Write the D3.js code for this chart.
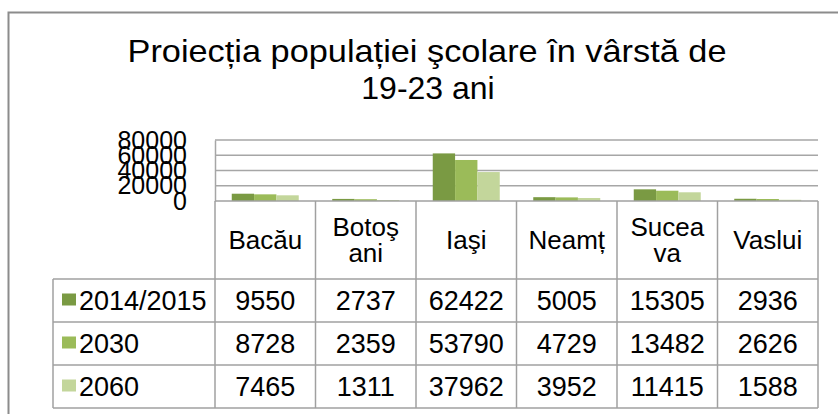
<!DOCTYPE html>
<html>
<head>
<meta charset="utf-8">
<script src="https://cdn.jsdelivr.net/npm/d3@7"></script>
<style>
  body { margin: 0; background: #fff; }
  text { font-family: "Liberation Sans", Arial, sans-serif; fill: #000; }
</style>
</head>
<body>
<div id="wrapper"></div>
<script>
// data
const categories = ["Bacău", "Botoşani", "Iaşi", "Neamț", "Suceava", "Vaslui"];
const headerLines = [["Bacău"], ["Botoş", "ani"], ["Iaşi"], ["Neamț"], ["Sucea", "va"], ["Vaslui"]];
const seriesNames = ["2014/2015", "2030", "2060"];
const values2014 = [9550, 2737, 62422, 5005, 15305, 2936];
const values2030 = [8728, 2359, 53790, 4729, 13482, 2626];
const values2060 = [7465, 1311, 37962, 3952, 11415, 1588];
const yTicks = [0, 20000, 40000, 60000, 80000];
const colors = ["#7a9a43", "#9bbb59", "#c3d69b"];
const titleLines = ["Proiecția populației şcolare în vârstă de", "19-23 ani"];

function drawChart() {
    const seriesValues = [values2014, values2030, values2060];

    let dimensions = {
        width: 838,
        height: 414,
        plotLeft: 215,
        plotRight: 818,
        plotTop: 140,
        plotBottom: 201,
        headerBottom: 279,
        rowHeight: 43,
        legendLeft: 53,
    };

    const svg = d3.select("#wrapper")
        .append("svg")
        .attr("width", dimensions.width)
        .attr("height", dimensions.height);

    // outer frame (cut off on right and bottom)
    svg.append("rect")
        .attr("x", 8.5).attr("y", 12.5)
        .attr("width", 900).attr("height", 500)
        .attr("fill", "none")
        .attr("stroke", "#8c8c8c")
        .attr("stroke-width", 2);

    // title, first line is a bit wider in the original
    const title = svg.append("g").attr("text-anchor", "middle");
    title.append("text")
        .attr("x", 427).attr("y", 62)
        .style("font-size", "32px")
        .attr("textLength", 599)
        .attr("lengthAdjust", "spacingAndGlyphs")
        .text(titleLines[0]);
    title.append("text")
        .attr("x", 428).attr("y", 98.5)
        .style("font-size", "32px")
        .text(titleLines[1]);

    // scales
    const xScale = d3.scaleBand()
        .domain(categories)
        .range([dimensions.plotLeft, dimensions.plotRight]);

    const bw = xScale.bandwidth();
    const seriesScale = d3.scaleBand()
        .domain(seriesNames)
        .range([bw / 6, bw - bw / 6]);

    const yScale = d3.scaleLinear()
        .domain([0, 80000])
        .range([dimensions.plotBottom, dimensions.plotTop]);

    // gridlines
    svg.append("g")
        .selectAll("line")
        .data(yTicks.filter(d => d > 0))
        .join("line")
        .attr("x1", dimensions.plotLeft)
        .attr("x2", dimensions.plotRight)
        .attr("y1", d => yScale(d))
        .attr("y2", d => yScale(d))
        .attr("stroke", "#a6a6a6")
        .attr("stroke-width", 1.5);

    // bars
    seriesValues.forEach((vals, s) => {
        svg.append("g")
            .selectAll("rect")
            .data(vals)
            .join("rect")
            .attr("x", (d, i) => xScale(categories[i]) + seriesScale(seriesNames[s]))
            .attr("width", seriesScale.bandwidth())
            .attr("y", d => yScale(d))
            .attr("height", d => yScale(0) - yScale(d))
            .attr("fill", colors[s]);
    });

    // y axis (labels overlap in the original too)
    const yAxisGenerator = d3.axisLeft(yScale)
        .tickValues(yTicks)
        .tickFormat(d3.format("d"))
        .tickSize(0)
        .tickPadding(28);

    const yAxis = svg.append("g")
        .attr("transform", `translate(${dimensions.plotLeft},0)`)
        .call(yAxisGenerator);
    yAxis.select(".domain")
        .attr("stroke", "#a6a6a6")
        .attr("stroke-width", 1.5);
    yAxis.selectAll("text")
        .style("font-family", "'Liberation Sans', Arial, sans-serif")
        .style("font-size", "25px")
        .attr("fill", "#000");

    // data table
    const table = svg.append("g");
    const lineColor = "#a0a0a0";
    const rowsBottom = dimensions.headerBottom + dimensions.rowHeight * seriesNames.length;

    // column borders
    const colEdges = categories.map(c => xScale(c)).concat([dimensions.plotRight]);
    table.selectAll("line.col")
        .data(colEdges)
        .join("line")
        .attr("class", "col")
        .attr("x1", d => d).attr("x2", d => d)
        .attr("y1", dimensions.plotBottom)
        .attr("y2", rowsBottom)
        .attr("stroke", lineColor)
        .attr("stroke-width", 1.5);

    table.append("line")
        .attr("x1", dimensions.legendLeft).attr("x2", dimensions.legendLeft)
        .attr("y1", dimensions.headerBottom).attr("y2", rowsBottom)
        .attr("stroke", lineColor)
        .attr("stroke-width", 1.5);

    // row borders
    table.append("line")
        .attr("x1", dimensions.plotLeft).attr("x2", dimensions.plotRight)
        .attr("y1", dimensions.plotBottom).attr("y2", dimensions.plotBottom)
        .attr("stroke", lineColor)
        .attr("stroke-width", 1.5);

    const rowEdges = d3.range(seriesNames.length + 1).map(i => dimensions.headerBottom + i * dimensions.rowHeight);
    table.selectAll("line.row")
        .data(rowEdges)
        .join("line")
        .attr("class", "row")
        .attr("x1", dimensions.legendLeft).attr("x2", dimensions.plotRight)
        .attr("y1", d => d).attr("y2", d => d)
        .attr("stroke", lineColor)
        .attr("stroke-width", 1.5);

    // header labels
    const headerMid = (dimensions.plotBottom + dimensions.headerBottom) / 2;
    table.selectAll("text.head")
        .data(headerLines)
        .join("text")
        .attr("class", "head")
        .attr("text-anchor", "middle")
        .style("font-size", "26px")
        .each(function(lines, i) {
            const cx = xScale(categories[i]) + bw / 2;
            const lh = 26;
            const y0 = headerMid + 9 - (lines.length - 1) * lh / 2;
            d3.select(this).selectAll("tspan")
                .data(lines)
                .join("tspan")
                .attr("x", cx)
                .attr("y", (d, j) => y0 + j * lh)
                .text(d => d);
        });

    // value rows
    seriesValues.forEach((vals, s) => {
        const rowMid = dimensions.headerBottom + (s + 0.5) * dimensions.rowHeight;
        table.append("g")
            .selectAll("text")
            .data(vals)
            .join("text")
            .attr("text-anchor", "middle")
            .style("font-size", "27px")
            .attr("x", (d, i) => xScale(categories[i]) + bw / 2)
            .attr("y", rowMid + 9.5)
            .text(d => d);

        // legend key
        table.append("rect")
            .attr("x", 62)
            .attr("y", rowMid - 7)
            .attr("width", 14)
            .attr("height", 12)
            .attr("fill", colors[s]);
        table.append("text")
            .attr("x", 79)
            .attr("y", rowMid + 9.5)
            .style("font-size", "27px")
            .text(seriesNames[s]);
    });
}

drawChart();
</script>
</body>
</html>
